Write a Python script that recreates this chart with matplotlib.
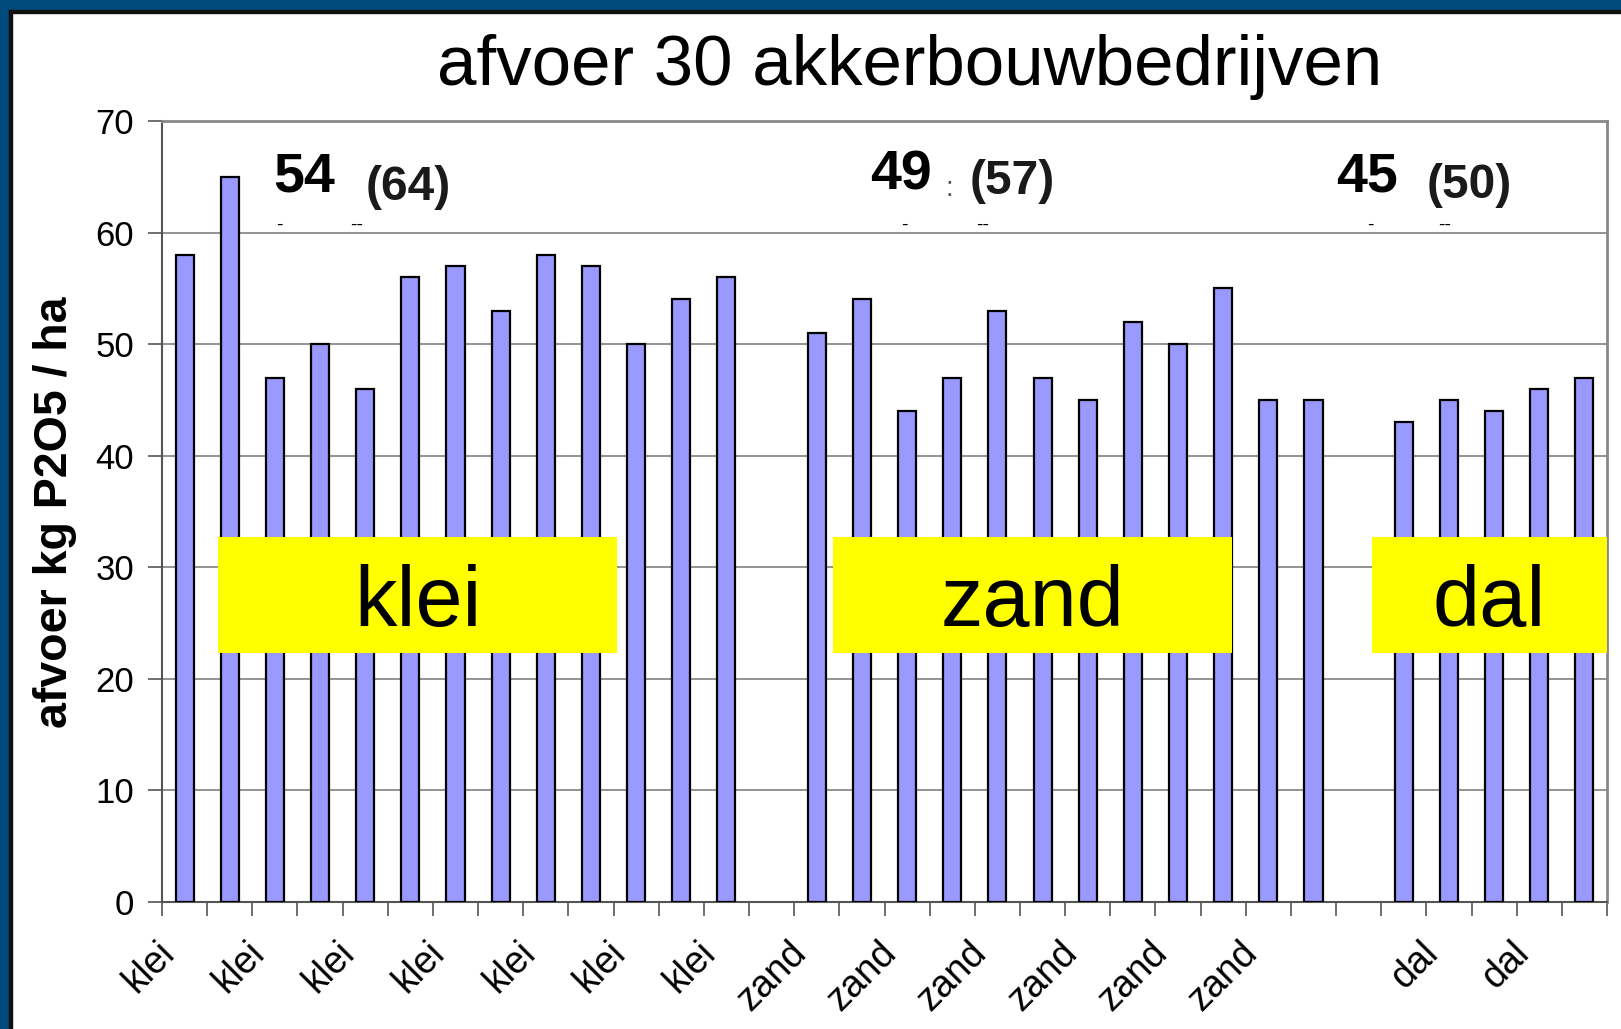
import numpy as np
import matplotlib
matplotlib.use('Agg')
import matplotlib.pyplot as plt
import matplotlib.transforms as mtransforms
from matplotlib.patches import Rectangle

plt.rcParams['font.family'] = ['Liberation Sans', 'DejaVu Sans']

# data
categories = ['klei'] * 13 + [''] + ['zand'] * 12 + [''] + ['dal'] * 5
values = [58, 65, 47, 50, 46, 56, 57, 53, 58, 57, 50, 54, 56,
          np.nan,
          51, 54, 44, 47, 53, 47, 45, 52, 50, 55, 45, 45,
          np.nan,
          43, 45, 44, 46, 47]
group_names = ['klei', 'zand', 'dal']
group_mean = ['54', '49', '45']
group_prev = ['(64)', '(57)', '(50)']
y_ticks = [0, 10, 20, 30, 40, 50, 60, 70]

# layout (data coordinates of the annotations and boxes)
mean_xy = [(2.64, 64.9), (15.86, 65.1), (26.18, 64.9)]
prev_xy = [(4.95, 64.0), (18.33, 64.6), (28.45, 64.2)]
dash_x = [(2.11, 3.80), (15.93, 17.68), (26.25, 27.91)]
box_x = [(0.74, 9.58), (14.36, 23.19), (26.29, 31.5)]
box_y = (22.3, 32.7)

fig = plt.figure(figsize=(16.21, 10.29), dpi=100, facecolor='white')

# dark blue slide frame on the left and top
frame_col = '#004b7b'
fig.add_artist(Rectangle((0, 0), 9 / 1621, 1, transform=fig.transFigure, color=frame_col, zorder=0))
fig.add_artist(Rectangle((0, 1 - 10 / 1029), 1, 10 / 1029, transform=fig.transFigure, color=frame_col, zorder=0))
fig.add_artist(Rectangle((9 / 1621, 0), 2.5 / 1621, 1 - 10 / 1029, transform=fig.transFigure, color='#111111', zorder=0))
fig.add_artist(Rectangle((9 / 1621, 1 - 12.5 / 1029), 1, 2.5 / 1029, transform=fig.transFigure, color='#111111', zorder=0))

ax = fig.add_axes([162 / 1621, 1 - 901.7 / 1029, (1607 - 162) / 1621, (901.7 - 121) / 1029])

x = np.arange(len(categories))
ax.bar(x, values, width=0.4, color='#9999ff', edgecolor='black', linewidth=1.6, zorder=3)

ax.set_xlim(-0.5, len(categories) - 0.5)
ax.set_ylim(0, 70)
ax.set_yticks(y_ticks)
ax.yaxis.grid(True, color='#808080', linewidth=1.2, zorder=1)
ax.tick_params(axis='y', labelsize=25, length=10, width=1.2, color='#555555', pad=10)

# labels on every second category, tick marks on category boundaries
ax.set_xticks(x[::2])
ax.set_xticklabels(categories[::2], rotation=45, ha='right', va='center',
                   rotation_mode='anchor', fontsize=27)
ax.tick_params(axis='x', which='major', length=0, pad=30)
shift = mtransforms.ScaledTranslation(-16 / 100, -4 / 100, fig.dpi_scale_trans)
for lab in ax.get_xticklabels():
    lab.set_transform(lab.get_transform() + shift)
ax.set_xticks(np.arange(-0.5, len(categories)), minor=True)
ax.tick_params(axis='x', which='minor', length=10, width=1.2, color='#555555')

for s in ['left', 'bottom']:
    ax.spines[s].set_color('#555555')
    ax.spines[s].set_linewidth(1.5)
for s in ['top', 'right']:
    ax.spines[s].set_color('#888888')
    ax.spines[s].set_linewidth(2)

for i in range(len(group_names)):
    ax.text(*mean_xy[i], group_mean[i], fontsize=40, fontweight='bold', ha='center', va='center', zorder=5)
    ax.text(*prev_xy[i], group_prev[i], fontsize=34.5, fontweight='bold', color='#1a1a1a',
            ha='center', va='center', zorder=5)
    ax.text(dash_x[i][0], 59.9, '-', fontsize=14, ha='center', va='bottom', zorder=5)
    ax.text(dash_x[i][1], 59.9, '--', fontsize=14, ha='center', va='bottom', zorder=5)
    x0, x1 = box_x[i]
    ax.add_patch(Rectangle((x0, box_y[0]), x1 - x0, box_y[1] - box_y[0],
                           facecolor='#ffff00', edgecolor='none', zorder=6, clip_on=False))
    ax.text((x0 + x1) / 2, 26.7, group_names[i], fontsize=61, ha='center', va='center', zorder=7)
ax.text(16.93, 63.9, ':', fontsize=20, color='#555555', ha='center', va='center', zorder=5)

fig.text(910 / 1621, 1 - 67 / 1029, 'afvoer 30 akkerbouwbedrijven', fontsize=51,
         ha='center', va='center')
fig.text(55 / 1621, 1 - 512 / 1029, 'afvoer kg P2O5 / ha', fontsize=33.5, fontweight='bold',
         rotation=90, ha='center', va='center')

fig.savefig('out.png', dpi=100)
